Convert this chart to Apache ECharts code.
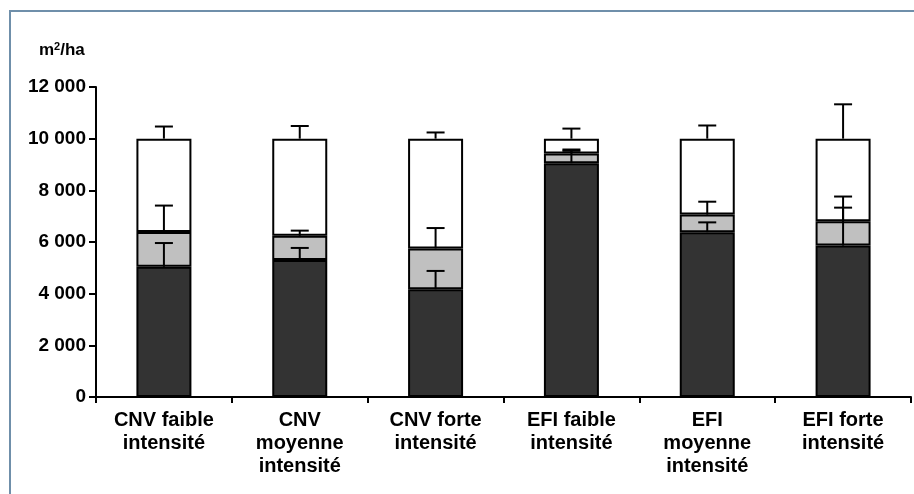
<!DOCTYPE html>
<html>
<head>
<meta charset="utf-8">
<script src="https://cdn.jsdelivr.net/npm/echarts@6/dist/echarts.min.js"></script>
<style>
html,body{margin:0;padding:0;background:#fff;}
#chart{width:914px;height:494px;}
</style>
</head>
<body>
<div id="chart"></div>
<script>
const categories = ['CNV faible\nintensité', 'CNV\nmoyenne\nintensité', 'CNV forte\nintensité', 'EFI faible\nintensité', 'EFI\nmoyenne\nintensité', 'EFI forte\nintensité'];
const darkValues = [5040, 5300, 4170, 9050, 6380, 5860];
const grayValues = [1350, 940, 1580, 380, 680, 940];
const whiteValues = [3610, 3760, 4250, 570, 2940, 3200];
const darkErrors = [920, 470, 710, 480, 380, 1470];
const grayErrors = [1020, 200, 790, 150, 500, 960];
const whiteErrors = [470, 490, 240, 390, 510, 1330];
const yMin = 0, yMax = 12000, yInterval = 2000;

const FONT = '"Liberation Sans", Arial, sans-serif';

function errData(bases, segs, errs) {
  return categories.map((c, i) => {
    const top = bases[i] + segs[i];
    return [i, top, top + errs[i]];
  });
}
const zeros = categories.map(() => 0);
const grayBase = darkValues.slice();
const whiteBase = darkValues.map((d, i) => d + grayValues[i]);

function renderErr(params, api) {
  const p1 = api.coord([api.value(0), api.value(1)]);
  const p2 = api.coord([api.value(0), api.value(2)]);
  const half = 9;
  const style = { stroke: '#000', lineWidth: 2 };
  return {
    type: 'group',
    children: [
      { type: 'line', shape: { x1: p1[0], y1: p1[1], x2: p2[0], y2: p2[1] }, style: style },
      { type: 'line', shape: { x1: p2[0] - half, y1: p2[1], x2: p2[0] + half, y2: p2[1] }, style: style }
    ]
  };
}

const barStyle = (color) => ({ color: color, borderColor: '#000', borderWidth: 2 });

const chart = echarts.init(document.getElementById('chart'));
chart.setOption({
  animation: false,
  backgroundColor: '#fff',
  title: {
    text: 'm{s|2}/ha',
    left: 34, top: 36,
    textStyle: {
      fontFamily: FONT, fontWeight: 'bold', fontSize: 17, color: '#000',
      rich: { s: { fontFamily: FONT, fontWeight: 'bold', fontSize: 11, color: '#000', verticalAlign: 'top', padding: [0, 0, 7, 0] } }
    }
  },
  graphic: [{
    type: 'rect',
    shape: { x: 10, y: 11, width: 920, height: 500 },
    style: { fill: 'none', stroke: '#6f8faa', lineWidth: 2 },
    silent: true
  }],
  grid: { left: 96, right: 3, top: 87, bottom: 97, containLabel: false },
  xAxis: {
    type: 'category',
    data: categories,
    axisLine: { lineStyle: { color: '#000', width: 2 } },
    axisTick: { show: true, length: 6, lineStyle: { color: '#000', width: 2 } },
    axisLabel: {
      color: '#000', fontFamily: FONT, fontWeight: 'bold', fontSize: 20,
      lineHeight: 23, margin: 12, interval: 0
    }
  },
  yAxis: {
    type: 'value',
    min: yMin, max: yMax, interval: yInterval,
    splitLine: { show: false },
    axisLine: { show: true, lineStyle: { color: '#000', width: 2 } },
    axisTick: { show: true, length: 7, lineStyle: { color: '#000', width: 2 } },
    axisLabel: {
      color: '#000', fontFamily: FONT, fontWeight: 'bold', fontSize: 19, margin: 10,
      formatter: (v) => String(v).replace(/\B(?=(\d{3})+(?!\d))/g, ' ')
    }
  },
  series: [
    { type: 'bar', stack: 's', data: darkValues, barWidth: 55, itemStyle: barStyle('#333333'), z: 2 },
    { type: 'bar', stack: 's', data: grayValues, barWidth: 55, itemStyle: barStyle('#c0c0c0'), z: 2 },
    { type: 'bar', stack: 's', data: whiteValues, barWidth: 55, itemStyle: barStyle('#ffffff'), z: 2 },
    { type: 'custom', renderItem: renderErr, data: errData(zeros, darkValues, darkErrors), z: 5, encode: { x: 0, y: [1, 2] } },
    { type: 'custom', renderItem: renderErr, data: errData(grayBase, grayValues, grayErrors), z: 5, encode: { x: 0, y: [1, 2] } },
    { type: 'custom', renderItem: renderErr, data: errData(whiteBase, whiteValues, whiteErrors), z: 5, encode: { x: 0, y: [1, 2] } }
  ]
});
</script>
</body>
</html>
